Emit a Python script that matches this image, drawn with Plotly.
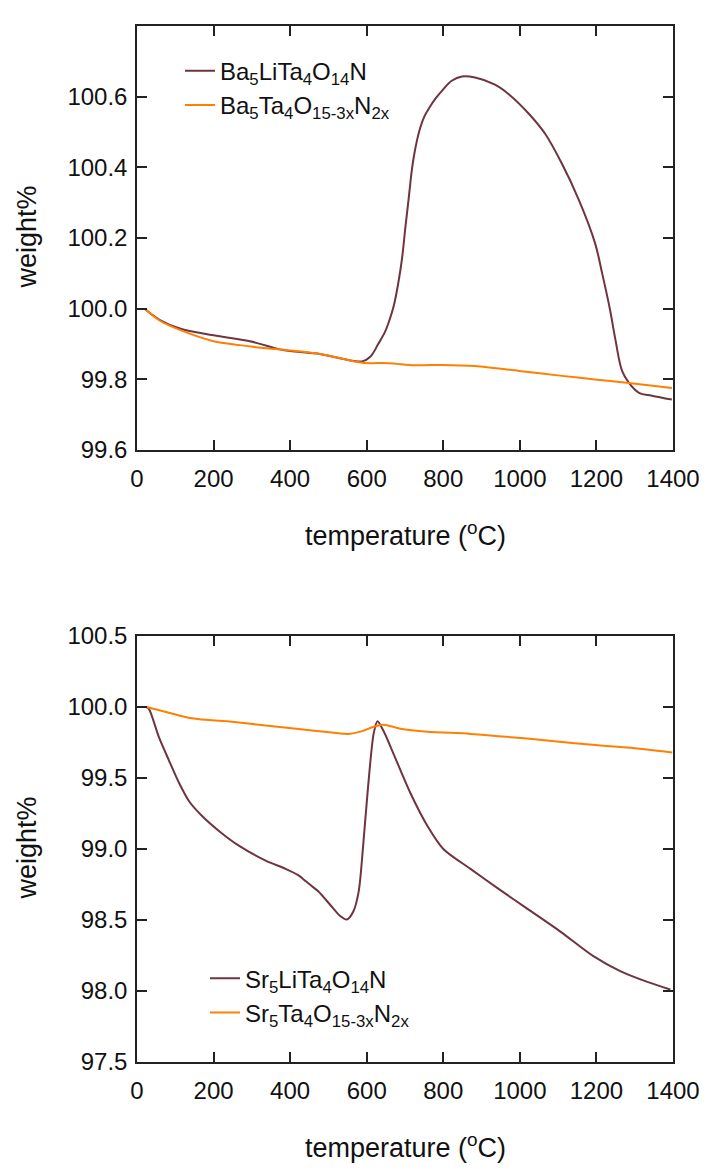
import plotly.graph_objects as go

# ---------------- data ----------------
# Top panel: Ba compounds
ba_li_T = [20, 60, 112, 200, 295, 373, 400, 478, 530, 588, 610, 630, 648, 660, 671, 682, 692, 701, 710,
           717, 723, 731, 740, 751, 762, 780, 797, 822, 849, 883, 935, 971, 1024, 1066, 1110, 1154, 1196,
           1215, 1235, 1249, 1267, 1285, 1311, 1345, 1397]
ba_li_W = [100.0, 99.968, 99.944, 99.925, 99.908, 99.885, 99.88, 99.872, 99.86, 99.851, 99.865, 99.9,
           99.935, 99.97, 100.01, 100.07, 100.14, 100.23, 100.316, 100.385, 100.43, 100.475, 100.513,
           100.545, 100.566, 100.595, 100.617, 100.645, 100.657, 100.654, 100.634, 100.607, 100.551,
           100.495, 100.41, 100.308, 100.187, 100.10, 100.0, 99.916, 99.824, 99.79, 99.762, 99.754, 99.743]

ba_T = [20, 60, 112, 200, 269, 339, 400, 478, 530, 588, 658, 726, 797, 883, 998, 1110, 1196, 1285, 1397]
ba_W = [100.0, 99.966, 99.94, 99.908, 99.897, 99.888, 99.882, 99.872, 99.86, 99.847, 99.846, 99.84,
        99.841, 99.838, 99.824, 99.81, 99.8, 99.79, 99.776]

# Bottom panel: Sr compounds
sr_li_T = [23, 31, 57, 83, 110, 136, 170, 214, 266, 336, 388, 422, 440, 457, 474, 509, 530, 548, 565,
           579, 590, 602, 618, 628, 644, 670, 714, 759, 800, 871, 949, 1019, 1105, 1192, 1262, 1333, 1393]
sr_li_W = [100.0, 99.986, 99.789, 99.626, 99.464, 99.336, 99.232, 99.127, 99.023, 98.918, 98.86, 98.814,
           98.775, 98.737, 98.70, 98.593, 98.53, 98.503, 98.56, 98.7, 99.0, 99.39, 99.81, 99.9, 99.83,
           99.67, 99.394, 99.16, 99.0, 98.86, 98.71, 98.58, 98.42, 98.245, 98.14, 98.064, 98.01]

sr_T = [25, 76, 143, 248, 336, 422, 509, 553, 584, 618, 644, 688, 759, 871, 1019, 1150, 1281, 1398]
sr_W = [100.0, 99.965, 99.92, 99.895, 99.87, 99.845, 99.82, 99.81, 99.826, 99.86, 99.875, 99.847,
        99.826, 99.81, 99.777, 99.742, 99.714, 99.68]

x_ticks = [0, 200, 400, 600, 800, 1000, 1200, 1400]
top_y_ticks = [99.6, 99.8, 100.0, 100.2, 100.4, 100.6]
bot_y_ticks = [97.5, 98.0, 98.5, 99.0, 99.5, 100.0, 100.5]

names = [
    "Ba<sub>5</sub>LiTa<sub>4</sub>O<sub>14</sub>N",
    "Ba<sub>5</sub>Ta<sub>4</sub>O<sub>15-3x</sub>N<sub>2x</sub>",
    "Sr<sub>5</sub>LiTa<sub>4</sub>O<sub>14</sub>N",
    "Sr<sub>5</sub>Ta<sub>4</sub>O<sub>15-3x</sub>N<sub>2x</sub>",
]

BROWN = "#6E3440"
ORANGE = "#FF8000"
FONT = "Liberation Sans, Arial, sans-serif"
AX = "#222222"

fig = go.Figure()
fig.add_trace(go.Scatter(x=ba_li_T, y=ba_li_W, mode="lines", name=names[0], legendgroup="a",
                         line=dict(color=BROWN, width=2, shape="spline", smoothing=1.0),
                         xaxis="x", yaxis="y", legend="legend"))
fig.add_trace(go.Scatter(x=ba_T, y=ba_W, mode="lines", name=names[1], legendgroup="b",
                         line=dict(color=ORANGE, width=2, shape="spline", smoothing=0.8),
                         xaxis="x", yaxis="y", legend="legend"))
fig.add_trace(go.Scatter(x=sr_li_T, y=sr_li_W, mode="lines", name=names[2], legendgroup="c",
                         line=dict(color=BROWN, width=2, shape="spline", smoothing=0.8),
                         xaxis="x2", yaxis="y2", legend="legend2"))
fig.add_trace(go.Scatter(x=sr_T, y=sr_W, mode="lines", name=names[3], legendgroup="d",
                         line=dict(color=ORANGE, width=2, shape="spline", smoothing=0.8),
                         xaxis="x2", yaxis="y2", legend="legend2"))

axis_common = dict(showline=True, linecolor=AX, linewidth=1.5, mirror="ticks", ticks="inside",
                   ticklen=10, tickwidth=1.5, tickcolor=AX, showgrid=False, zeroline=False,
                   tickfont=dict(family=FONT, size=24, color="#111"))

W, H = 724, 1170
ml, mr, mt, mb = 137, 51, 14, 108
ph = H - mt - mb
pw = W - ml - mr

def py(pix):
    return (H - mb - pix) / ph

def px(pix):
    return (pix - ml) / pw

fig.update_layout(
    width=W, height=H,
    margin=dict(l=ml, r=mr, t=mt, b=mb),
    paper_bgcolor="white", plot_bgcolor="white",
    font=dict(family=FONT, color="#111"),
    xaxis=dict(domain=[0, 1], range=[0, 1400], tickvals=x_ticks, anchor="y", ticklabelstandoff=6,
               **axis_common),
    yaxis=dict(domain=[py(443), 1], range=[99.6, 100.8], tickvals=top_y_ticks, tickformat=".1f",
               anchor="x", ticklabelstandoff=3, **axis_common),
    xaxis2=dict(domain=[0, 1], range=[0, 1400], tickvals=x_ticks, anchor="y2", ticklabelstandoff=6,
                **axis_common),
    yaxis2=dict(domain=[0, py(631)], range=[97.5, 100.5], tickvals=bot_y_ticks, tickformat=".1f",
                anchor="x2", ticklabelstandoff=3, **axis_common),
    legend=dict(x=px(180), y=py(37), xanchor="left", yanchor="top", bgcolor="rgba(0,0,0,0)",
                font=dict(family=FONT, size=24, color="#111"), tracegroupgap=0),
    legend2=dict(x=px(205), y=py(955), xanchor="left", yanchor="top", bgcolor="rgba(0,0,0,0)",
                 font=dict(family=FONT, size=24, color="#111"), tracegroupgap=0),
    showlegend=True,
)

title_font = dict(family=FONT, size=27, color="#111")
fig.add_annotation(text="temperature (<sup>o</sup>C)", xref="paper", yref="paper", x=0.5, y=py(528),
                   xanchor="center", yanchor="middle", showarrow=False, font=title_font)
fig.add_annotation(text="temperature (<sup>o</sup>C)", xref="paper", yref="paper", x=0.5, y=py(1147),
                   xanchor="center", yanchor="middle", showarrow=False, font=title_font)
fig.add_annotation(text="weight%", xref="paper", yref="paper", x=px(27), y=py(228), textangle=-90,
                   xanchor="center", yanchor="middle", showarrow=False, font=title_font)
fig.add_annotation(text="weight%", xref="paper", yref="paper", x=px(27), y=py(846), textangle=-90,
                   xanchor="center", yanchor="middle", showarrow=False, font=title_font)

fig.write_html("out.html", config={"displayModeBar": False},
               post_script="document.body.style.margin='0';document.body.style.overflow='hidden';")
